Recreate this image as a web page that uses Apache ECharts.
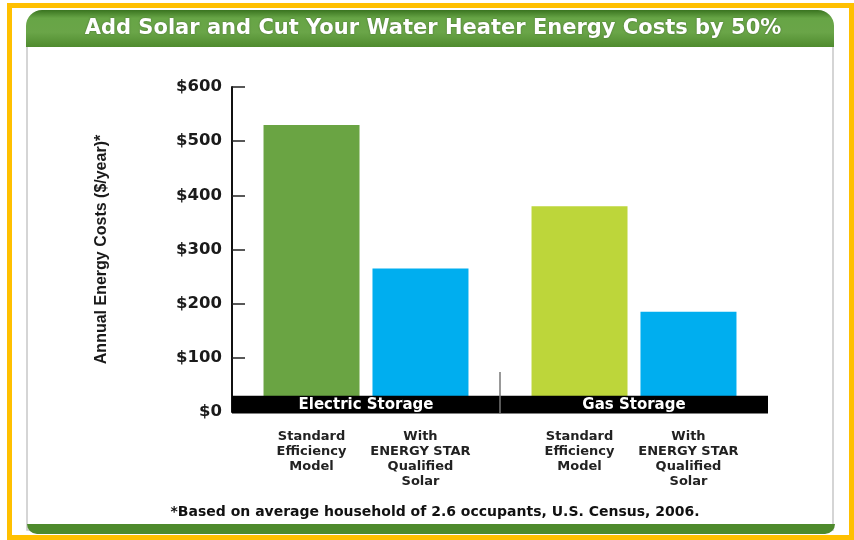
<!DOCTYPE html>
<html>
<head>
<meta charset="utf-8">
<script src="https://cdn.jsdelivr.net/npm/echarts@6/dist/echarts.min.js"></script>
<style>html,body{margin:0;padding:0;background:#fff;}#c{width:854px;height:540px;}</style>
</head>
<body>
<div id="c"></div>
<script>
const titleText = 'Add Solar and Cut Your Water Heater Energy Costs by 50%';
const groups = ['Electric Storage', 'Gas Storage'];
const standardValues = [530, 380];
const solarValues = [265, 185];
const standardColors = ['#6AA443', '#BDD63A'];
const solarColor = '#00AEEF';
const standardLabel = 'Standard\nEfficiency\nModel';
const solarLabel = 'With\nENERGY STAR\nQualified\nSolar';
const yTicks = [0, 100, 200, 300, 400, 500, 600];
const yName = 'Annual Energy Costs ($/year)*';
const footnote = '*Based on average household of 2.6 occupants, U.S. Census, 2006.';
const bandTop = 30;

const chart = echarts.init(document.getElementById('c'), null, {renderer: 'canvas'});
const wide = '"DejaVu Sans", sans-serif';
const labelStyle = {
  show: true, position: 'bottom', distance: 17, color: '#222',
  fontFamily: wide, fontWeight: 'bold', fontSize: 13, lineHeight: 15, align: 'center'
};
chart.setOption({
  backgroundColor: '#fff',
  animation: false,
  grid: {left: 232, right: 86, top: 87, bottom: 128},
  xAxis: {
    type: 'category', data: groups,
    axisLine: {show: false}, axisTick: {show: false}, axisLabel: {show: false}
  },
  yAxis: {
    type: 'value', min: yTicks[0], max: yTicks[yTicks.length - 1], interval: 100,
    name: yName, nameLocation: 'middle', nameGap: 122, nameRotate: 90,
    nameTextStyle: {fontFamily: '"Liberation Sans", Arial, sans-serif', fontSize: 16, fontWeight: 'bold', color: '#1a1a1a'},
    axisLine: {show: true, lineStyle: {color: '#111', width: 2}},
    axisTick: {show: true, inside: true, length: 13, lineStyle: {color: '#222', width: 1.5}},
    splitLine: {show: false},
    axisLabel: {formatter: v => '$' + v, fontFamily: wide, fontWeight: 'bold', fontSize: 16.5, color: '#1a1a1a', margin: 10}
  },
  series: [
    {
      type: 'bar', name: 'Standard', barWidth: 96, barGap: '13.5%',
      data: standardValues.map((v, i) => ({value: v, itemStyle: {color: standardColors[i]}})),
      label: Object.assign({}, labelStyle, {formatter: () => standardLabel})
    },
    {
      type: 'bar', name: 'Solar', barWidth: 96,
      data: solarValues, itemStyle: {color: solarColor},
      label: Object.assign({}, labelStyle, {formatter: () => solarLabel})
    }
  ]
});

function build() {
  const y0 = chart.convertToPixel({yAxisIndex: 0}, 0);
  const yb = chart.convertToPixel({yAxisIndex: 0}, bandTop);
  const c0 = chart.convertToPixel({xAxisIndex: 0}, groups[0]);
  const c1 = chart.convertToPixel({xAxisIndex: 0}, groups[1]);
  const half = (c1 - c0) / 2;
  const xL = c0 - half, xR = c1 + half, xMid = (c0 + c1) / 2;
  const yDiv = chart.convertToPixel({yAxisIndex: 0}, 74);
  chart.setOption({
    graphic: [
      {type: 'rect', z: -10, shape: {x: 27, y: 40, width: 806, height: 490}, style: {fill: '#fff', stroke: '#c8c8c8', lineWidth: 1.5}},
      {type: 'rect', z: -5, shape: {x: 26, y: 10, width: 808, height: 37, r: [16, 16, 0, 0]},
        style: {fill: new echarts.graphic.LinearGradient(0, 0, 0, 1, [
          {offset: 0, color: '#3A7420'}, {offset: 0.22, color: '#67A546'}, {offset: 0.6, color: '#6AA548'}, {offset: 1, color: '#4F8B2E'}])}},
      {type: 'text', z: 5, x: 433, y: 29, style: {text: titleText, fill: '#fff', font: 'bold 21px "DejaVu Sans", sans-serif', align: 'center', verticalAlign: 'middle', textShadowColor: 'rgba(0,0,0,0.35)', textShadowBlur: 2}},
      {type: 'rect', z: -5, shape: {x: 27, y: 524, width: 808, height: 10, r: [0, 0, 10, 10]}, style: {fill: '#4E8A2C'}},
      {type: 'rect', z: 20, shape: {x: 9.5, y: 5.5, width: 842, height: 532}, style: {fill: 'none', stroke: '#FFC000', lineWidth: 5}},
      {type: 'rect', z: 10, shape: {x: xL, y: yb, width: xR - xL, height: y0 - yb + 1.5}, style: {fill: '#000'}},
      {type: 'line', z: 11, shape: {x1: xMid, y1: yDiv, x2: xMid, y2: y0 + 1}, style: {stroke: '#777', lineWidth: 1.5}},
      {type: 'text', z: 12, x: c0, y: (y0 + yb) / 2 + 1, style: {text: groups[0], fill: '#fff', font: 'bold 15px "DejaVu Sans", sans-serif', align: 'center', verticalAlign: 'middle'}},
      {type: 'text', z: 12, x: c1, y: (y0 + yb) / 2 + 1, style: {text: groups[1], fill: '#fff', font: 'bold 15px "DejaVu Sans", sans-serif', align: 'center', verticalAlign: 'middle'}},
      {type: 'text', z: 5, x: 435, y: 512, style: {text: footnote, fill: '#111', font: 'bold 14px "DejaVu Sans", sans-serif', align: 'center', verticalAlign: 'middle'}}
    ]
  });
}
build();
</script>
</body>
</html>
